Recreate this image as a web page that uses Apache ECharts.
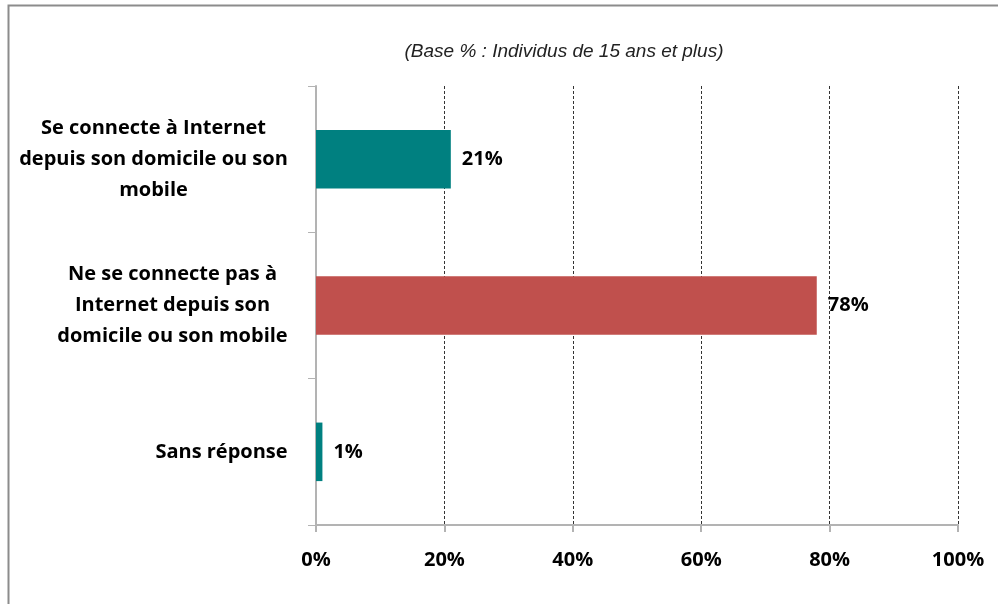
<!DOCTYPE html>
<html>
<head>
<meta charset="utf-8">
<script src="https://cdn.jsdelivr.net/npm/echarts@6/dist/echarts.min.js"></script>
<style>
  html, body { margin: 0; padding: 0; background: #fff; }
  #chart { width: 998px; height: 604px; }
</style>
</head>
<body>
<div id="chart"></div>
<script>
// categories, top to bottom
var categories = [
    "Se connecte à Internet\ndepuis son domicile ou son\nmobile",
    "Ne se connecte pas à\nInternet depuis son\ndomicile ou son mobile",
    "Sans réponse"
];
var values = [21, 78, 1];
var barColors = ["#008080", "#C0504D", "#008080"];
var subtitle = "(Base % : Individus de 15 ans et plus)";

var labelFont = 'bold 20px "Open Sans"';

// largeur de la ligne la plus longue de chaque libellé (bloc centré, calé à droite)
var ctx = document.createElement('canvas').getContext('2d');
ctx.font = labelFont;
function blockWidth(txt) {
    var w = 0;
    txt.split('\n').forEach(function (l) {
        w = Math.max(w, ctx.measureText(l).width);
    });
    return Math.ceil(w) + 2;
}

var rich = {};
categories.forEach(function (c, i) {
    rich['c' + i] = {
        width: blockWidth(c),
        align: 'center',
        fontFamily: 'Open Sans',
        fontSize: 20,
        fontWeight: 'bold',
        color: '#000',
        lineHeight: 31
    };
});

var chart = echarts.init(document.getElementById('chart'));

var option = {
    animation: false,
    textStyle: { fontFamily: 'Open Sans' },
    graphic: [
        {
            type: 'rect',
            shape: { x: 8.5, y: 5.5, width: 1000, height: 700 },
            style: { fill: 'none', stroke: '#8c8c8c', lineWidth: 2 }
        }
    ],
    title: {
        text: subtitle,
        left: 559,
        textAlign: 'center',
        top: 37,
        textStyle: {
            fontFamily: 'Liberation Sans',
            fontStyle: 'italic',
            fontWeight: 'normal',
            fontSize: 19,
            color: '#222'
        }
    },
    grid: {
        left: 316,
        right: 40,
        top: 86,
        bottom: 79
    },
    xAxis: {
        type: 'value',
        min: 0,
        max: 100,
        interval: 20,
        axisLine: { show: true, lineStyle: { color: '#b3b3b3', width: 2 } },
        axisTick: { show: true, length: 7, lineStyle: { color: '#b3b3b3', width: 2 } },
        splitLine: { show: true, lineStyle: { color: '#333', type: [3, 2], width: 1 } },
        axisLabel: {
            formatter: '{value}%',
            margin: 25,
            fontFamily: 'Open Sans',
            fontSize: 20,
            fontWeight: 'bold',
            color: '#000'
        }
    },
    yAxis: {
        type: 'category',
        inverse: true,
        data: categories,
        axisLine: { show: true, lineStyle: { color: '#b3b3b3', width: 2 } },
        axisTick: { show: true, length: 8, lineStyle: { color: '#b3b3b3', width: 1 } },
        axisLabel: {
            align: 'right',
            margin: 27,
            rich: rich,
            formatter: function (value, index) {
                return value.split('\n').map(function (l) {
                    return '{c' + index + '|' + l + '}';
                }).join('\n');
            }
        }
    },
    series: [
        {
            type: 'bar',
            barCategoryGap: '60%',
            data: values.map(function (v, i) {
                return { value: v, itemStyle: { color: barColors[i] } };
            }),
            label: {
                show: true,
                position: 'right',
                distance: 11,
                formatter: '{c}%',
                fontFamily: 'Open Sans',
                fontSize: 20,
                fontWeight: 'bold',
                color: '#000'
            }
        }
    ]
};

chart.setOption(option);
</script>
</body>
</html>
